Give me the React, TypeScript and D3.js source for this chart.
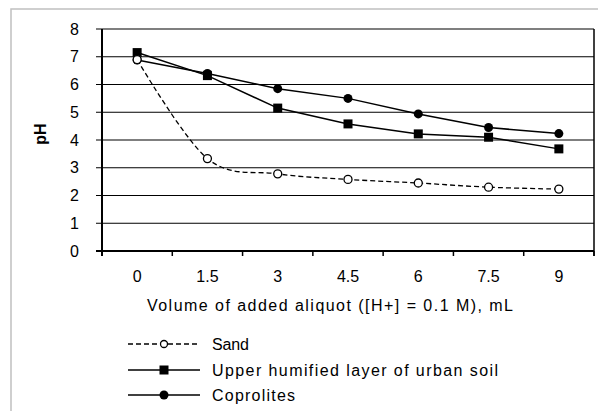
import React from "react";
import * as d3 from "d3";

const categories = ["0", "1.5", "3", "4.5", "6", "7.5", "9"];
const sand = [6.9, 3.33, 2.78, 2.58, 2.45, 2.3, 2.23];
const humified = [7.15, 6.32, 5.15, 4.58, 4.22, 4.1, 3.68];
const coprolites = [6.88, 6.4, 5.85, 5.5, 4.94, 4.45, 4.23];
const yTicks = [0, 1, 2, 3, 4, 5, 6, 7, 8];
const legendLabels = ["Sand", "Upper humified layer of urban soil", "Coprolites"];

const W = 598, H = 411;
const L = 102, R = 594, T = 29, B = 251;

export default function App() {
  const x = d3.scaleBand().domain(categories).range([L, R]).padding(0);
  const y = d3.scaleLinear().domain([0, 8]).range([B, T]);
  const cx = (i: number) => (x(categories[i]) as number) + x.bandwidth() / 2;
  const smooth = d3.line<number>().x((_, i) => cx(i)).y((d) => y(d)).curve(d3.curveCatmullRom.alpha(0));
  const straight = d3.line<number>().x((_, i) => cx(i)).y((d) => y(d));
  const font = "'Liberation Sans', Arial, sans-serif";
  const bounds = [...categories.map((c) => x(c) as number), R];

  const legendY = [344, 370, 395];
  const legendLen = [37, 286, 83];
  const lx0 = 128, lx1 = 200, lm = 164, ltx = 212;

  return (
    <svg width={W} height={H} style={{ position: "absolute", left: 0, top: 0 }} fontFamily={font}>
      <rect x={0} y={0} width={W} height={H} fill="#fff" />
      <rect x={11} y={9} width={700} height={500} fill="none" stroke="#c0c0c0" strokeWidth={1.5} />
      {yTicks.map((t) => (
        <g key={t}>
          <line x1={L - 6} x2={R} y1={y(t)} y2={y(t)} stroke="#000" strokeWidth={t === 0 ? 2 : 1.2} />
          <text x={79} y={y(t) + 5.5} textAnchor="end" fontSize={16}>{t}</text>
        </g>
      ))}
      <line x1={L} x2={L} y1={T} y2={B + 5} stroke="#000" strokeWidth={2} />
      <line x1={R} x2={R} y1={T} y2={B + 5} stroke="#000" strokeWidth={1.5} />
      {bounds.map((b, i) => (
        <line key={i} x1={b} x2={b} y1={B} y2={B + 5} stroke="#000" strokeWidth={1.5} />
      ))}
      {categories.map((c, i) => (
        <text key={c} x={cx(i)} y={282} textAnchor="middle" fontSize={16}>{c}</text>
      ))}
      <text x={147} y={311} fontSize={16} textLength={366} lengthAdjust="spacing">Volume of added aliquot ([H+] = 0.1 M), mL</text>
      <text transform={`translate(46,134) rotate(-90)`} textAnchor="middle" fontSize={16} fontWeight="bold">pH</text>

      <path d={smooth(sand) || ""} fill="none" stroke="#000" strokeWidth={1.3} strokeDasharray="5,3" />
      <path d={straight(humified) || ""} fill="none" stroke="#000" strokeWidth={1.5} />
      <path d={straight(coprolites) || ""} fill="none" stroke="#000" strokeWidth={1.5} />
      {humified.map((v, i) => (
        <rect key={"h" + i} x={cx(i) - 4.5} y={y(v) - 4.5} width={9} height={9} fill="#000" />
      ))}
      {coprolites.map((v, i) => (
        <circle key={"c" + i} cx={cx(i)} cy={y(v)} r={4.5} fill="#000" />
      ))}
      {sand.map((v, i) => (
        <circle key={"s" + i} cx={cx(i)} cy={y(v)} r={4} fill="#fff" stroke="#000" strokeWidth={1.3} />
      ))}

      {legendLabels.map((lab, i) => (
        <g key={lab}>
          <line x1={lx0} x2={lx1} y1={legendY[i]} y2={legendY[i]} stroke="#000" strokeWidth={i === 0 ? 1.3 : 1.5} strokeDasharray={i === 0 ? "5,3" : undefined} />
          {i === 0 && <circle cx={lm} cy={legendY[i]} r={3.5} fill="#fff" stroke="#000" strokeWidth={1.3} />}
          {i === 1 && <rect x={lm - 4.5} y={legendY[i] - 4.5} width={9} height={9} fill="#000" />}
          {i === 2 && <circle cx={lm} cy={legendY[i]} r={4.5} fill="#000" />}
          <text x={ltx} y={legendY[i] + 6} fontSize={16} textLength={legendLen[i]} lengthAdjust="spacing">{lab}</text>
        </g>
      ))}
    </svg>
  );
}
